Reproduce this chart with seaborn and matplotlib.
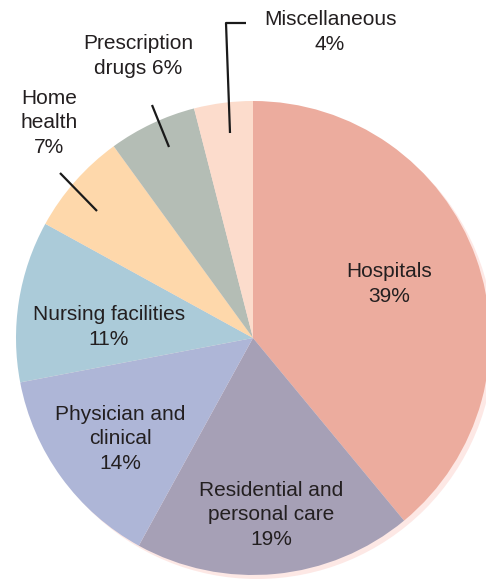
import matplotlib
matplotlib.use("Agg")
import matplotlib.pyplot as plt
from matplotlib.patches import Circle
import seaborn as sns

# Spending shares by category (percent), clockwise from 12 o'clock
categories = ["Hospitals", "Residential and\npersonal care", "Physician and\nclinical",
              "Nursing facilities", "Home\nhealth", "Prescription\ndrugs", "Miscellaneous"]
shares = [39, 19, 14, 11, 7, 6, 4]
colors = ["#ecac9e", "#a6a0b6", "#aeb6d7", "#abcbd9", "#fed8ab", "#b4bdb5", "#fcdccc"]

sns.set_theme(style="white")
plt.rcParams["font.family"] = ["Liberation Sans", "DejaVu Sans"]

W, H = 486, 582
fig = plt.figure(figsize=(W / 100, H / 100), dpi=100)
ax = fig.add_axes([0, 0, 1, 1])

cx, cy, r = 253, H - 338, 237

# soft drop shadow behind the pie
ax.add_patch(Circle((cx + 4, cy - 4), r, color="#fde8e5", lw=0, zorder=0))

ax.pie(shares, colors=colors, startangle=90, counterclock=False,
       center=(cx, cy), radius=r, wedgeprops=dict(linewidth=0), frame=True)

ax.set_xlim(0, W)
ax.set_ylim(0, H)
ax.set_aspect("equal")
ax.axis("off")

fs = 15
tc = "#231f20"

def label(x, y, s):
    ax.text(x, H - y, s, ha="center", va="center", fontsize=fs, color=tc,
            linespacing=1.38, zorder=5)

label(389, 284, f"Hospitals\n{shares[0]}%")
label(271, 515, f"Residential and\npersonal care\n{shares[1]}%")
label(120, 439, f"Physician and\nclinical\n{shares[2]}%")
label(109, 327, f"Nursing facilities\n{shares[3]}%")
label(49, 123, f"Home\nhealth\n{shares[4]}%")
label(138, 56, f"Prescription\ndrugs {shares[5]}%")
label(330, 32, f"Miscellaneous\n{shares[6]}%")

# leader lines for the small slices
lk = dict(color="#1a1a1a", lw=1.6, solid_capstyle="butt", zorder=6)
ax.plot([60, 97], [H - 173, H - 211], **lk)
ax.plot([152, 169], [H - 105, H - 147], **lk)
ax.plot([230, 226, 246], [H - 133, H - 23, H - 23], **lk)

fig.savefig("out.png", dpi=100)
